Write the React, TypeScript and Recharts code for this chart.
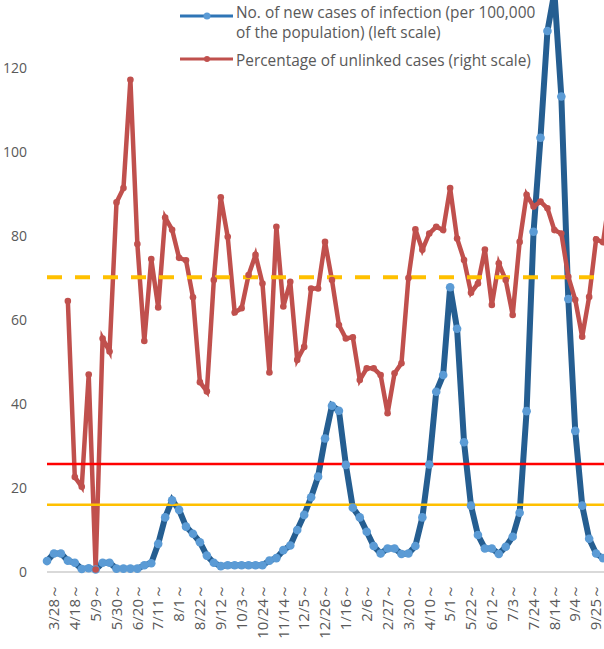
import React from "react"
import {
  LineChart,
  Line,
  XAxis,
  YAxis,
  ReferenceLine,
} from "recharts"

// weekly periods, starting 2020-03-21
const weeks = [
  "3/21", "3/28", "4/4", "4/11", "4/18", "4/25", "5/2", "5/9", "5/16", "5/23",
  "5/30", "6/6", "6/13", "6/20", "6/27", "7/4", "7/11", "7/18", "7/25", "8/1",
  "8/8", "8/15", "8/22", "8/29", "9/5", "9/12", "9/19", "9/26", "10/3", "10/10",
  "10/17", "10/24", "10/31", "11/7", "11/14", "11/21", "11/28", "12/5", "12/12", "12/19",
  "12/26", "1/2", "1/9", "1/16", "1/23", "1/30", "2/6", "2/13", "2/20", "2/27",
  "3/6", "3/13", "3/20", "3/27", "4/3", "4/10", "4/17", "4/24", "5/1", "5/8",
  "5/15", "5/22", "5/29", "6/5", "6/12", "6/19", "6/26", "7/3", "7/10", "7/17",
  "7/24", "7/31", "8/7", "8/14", "8/21", "8/28", "9/4", "9/11", "9/18", "9/25",
  "10/2", "10/9",
]

// new cases per 100,000 (left scale)
const newCases = [
  2.6, 4.4, 4.4, 2.7, 2.2, 0.7, 0.9, 0.6, 2.2, 2.2,
  0.8, 0.8, 0.8, 0.8, 1.6, 2.1, 6.7, 13, 17.1, 14.8,
  10.8, 9.1, 7.1, 3.9, 2.2, 1.4, 1.6, 1.6, 1.6, 1.6,
  1.6, 1.6, 2.7, 3.3, 5.2, 6.3, 10, 13.6, 17.8, 22.7,
  31.8, 39.6, 38.4, 25.5, 15.3, 13, 9.6, 6.2, 4.4, 5.6,
  5.6, 4.3, 4.4, 6.2, 13, 25.6, 42.9, 46.9, 67.8, 57.9,
  30.9, 15.8, 8.8, 5.6, 5.6, 4.3, 6.0, 8.4, 14.1, 38.3,
  81, 103.4, 128.8, 138, 113.2, 65, 33.6, 15.8, 7.9, 4.4,
  3.3, 2.5,
]

// percentage of unlinked cases (right scale)
const unlinked = [
  null, null, null, 64.5, 22.6, 20.3, 47, 0.6, 55.6, 52.5,
  88, 91.4, 117.2, 78.1, 55, 74.5, 63, 84.4, 81.5, 74.8,
  74.2, 65.4, 45.2, 43, 69.5, 89.2, 79.8, 61.8, 62.8, 70.7,
  75.5, 68.7, 47.5, 82.2, 63.2, 69.1, 50.5, 53.6, 67.5, 67.5,
  78.6, 69.5, 58.8, 55.6, 55.9, 45.7, 48.5, 48.5, 46.9, 37.8,
  47.3, 49.7, 70, 81.6, 76.7, 80.6, 82.2, 81.4, 91.4, 79.4,
  74.3, 66.5, 68.7, 76.8, 63.6, 73.5, 69.5, 61.2, 78.6, 89.8,
  87, 88.2, 86.6, 81.4, 80.6, 70.3, 64.8, 56, 65.5, 79.2,
  78.5, 90,
]

const yTicks = [0, 20, 40, 60, 80, 100, 120]
const thresholds = { dashed: 70.2, red: 25.7, yellow: 16 }

const data = weeks.map((week, i) => ({
  week,
  cases: newCases[i],
  unlinked: unlinked[i],
}))

const FONT = '"Open Sans", "Noto Sans", sans-serif'
const GREY = "#595959"

function WeekTick(props: any) {
  const { x, y, payload, index } = props
  if (index % 3 !== 1) return null
  const ty = y + 4
  return (
    <text
      x={x}
      y={ty}
      transform={`rotate(-90 ${x} ${ty})`}
      textAnchor="end"
      dy="0.35em"
      fill={GREY}
      fontSize={15}
      fontFamily={FONT}
    >
      {payload.value}～
    </text>
  )
}

const legendText: React.CSSProperties = {
  position: "absolute",
  left: 56,
  fontFamily: FONT,
  fontSize: 15.4,
  lineHeight: "20px",
  color: GREY,
  whiteSpace: "nowrap",
}

function ChartLegend() {
  return (
    <div style={{ position: "absolute", left: 180, top: 0, width: 400, height: 72 }}>
      <svg width={56} height={72} style={{ position: "absolute", left: 0, top: 0 }}>
        <line x1={0} y1={16} x2={53} y2={16} stroke="#2E75B6" strokeWidth={3} />
        <circle cx={27} cy={16} r={3.5} fill="#5B9BD5" />
        <line x1={0} y1={59} x2={53} y2={59} stroke="#C0504D" strokeWidth={3} />
        <circle cx={27} cy={59} r={3} fill="#C0504D" />
      </svg>
      <div style={{ ...legendText, top: 3 }}>
        No. of new cases of infection (per 100,000
        <br />
        of the population) (left scale)
      </div>
      <div style={{ ...legendText, top: 51 }}>
        Percentage of unlinked cases (right scale)
      </div>
    </div>
  )
}

export default function App() {
  return (
    <div
      style={{
        position: "fixed",
        left: 0,
        top: 0,
        width: 604,
        height: 649,
        overflow: "hidden",
        background: "#fff",
      }}
    >
      <div style={{ position: "absolute", left: 0, top: -26 }}>
        <LineChart
          width={610}
          height={678}
          data={data}
          margin={{ top: 10, right: 0, bottom: 0, left: 0 }}
        >
          <XAxis
            dataKey="week"
            interval={0}
            tick={<WeekTick />}
            tickLine={false}
            axisLine={{ stroke: "#D9D9D9", strokeWidth: 2 }}
            height={80}
            padding={{ left: 0, right: 0 }}
          />
          <YAxis
            yAxisId="left"
            domain={[0, 140]}
            ticks={yTicks}
            width={47}
            axisLine={false}
            tickLine={false}
            tickMargin={14}
            tick={{ fill: GREY, fontSize: 14, fontFamily: FONT }}
          />
          <YAxis yAxisId="right" orientation="right" domain={[0, 140]} hide />
          <Line
            yAxisId="left"
            type="linear"
            dataKey="cases"
            stroke="#255E91"
            strokeWidth={6}
            dot={{ r: 4.3, fill: "#5B9BD5", stroke: "#5B9BD5", strokeWidth: 0 }}
            isAnimationActive={false}
          />
          <Line
            yAxisId="right"
            type="linear"
            dataKey="unlinked"
            stroke="#C0504D"
            strokeWidth={4.5}
            dot={{ r: 3.3, fill: "#C0504D", stroke: "#C0504D", strokeWidth: 0 }}
            connectNulls={false}
            isAnimationActive={false}
          />
          <ReferenceLine
            yAxisId="left"
            y={thresholds.dashed}
            stroke="#FFC000"
            strokeWidth={4}
            strokeDasharray="15 13"
          />
          <ReferenceLine yAxisId="left" y={thresholds.red} stroke="#FF0000" strokeWidth={2.5} />
          <ReferenceLine yAxisId="left" y={thresholds.yellow} stroke="#FFC000" strokeWidth={2.5} />
        </LineChart>
      </div>
      <ChartLegend />
    </div>
  )
}
